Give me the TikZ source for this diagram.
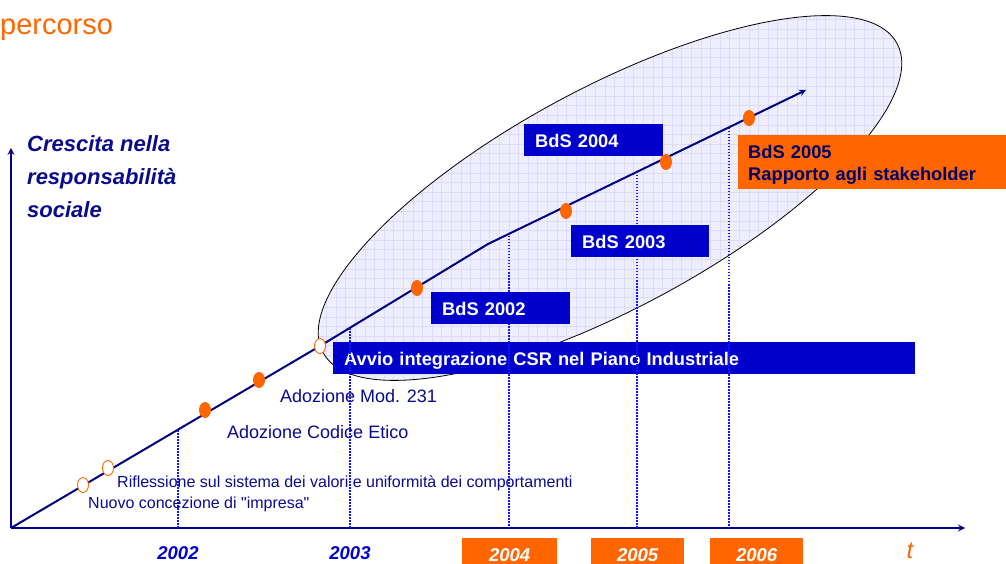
\documentclass[tikz,border=0pt]{standalone}
\usepackage{fontspec}
\setmainfont{Liberation Sans}[Ligatures=TeXOff]
\usetikzlibrary{shapes.geometric}

\definecolor{navy}{RGB}{0,0,128}
\definecolor{navytext}{RGB}{10,10,140}
\definecolor{boxblue}{RGB}{0,0,204}
\definecolor{dropblue}{RGB}{20,20,255}
\definecolor{mileorange}{RGB}{255,102,0}
\definecolor{darktext}{RGB}{0,0,102}
\definecolor{lavender}{RGB}{238,238,255}
\definecolor{gridlav}{RGB}{220,220,250}

\tikzset{
  axis/.style={draw=navy, line width=2bp},
  full dot/.style={ellipse, fill=mileorange, inner sep=0pt, minimum width=12bp, minimum height=16bp},
  open dot/.style={ellipse, draw=mileorange, fill=white, line width=0.9bp, inner sep=0pt, minimum width=11bp, minimum height=15bp},
  drop line/.style={draw=dropblue, line width=1.5bp, dash pattern=on 1.5bp off 1.5bp},
  bds box/.style={fill=boxblue, text=white, anchor=north west, align=left, inner xsep=11bp, inner ysep=0pt,
    minimum height=32bp, text height=14bp, text depth=0bp, font=\fontsize{18.3bp}{22bp}\selectfont\bfseries},
  year box/.style={fill=mileorange, text=white, anchor=north west, inner sep=0pt, minimum height=32bp,
    text height=14bp, text depth=0bp, font=\fontsize{18.5bp}{22bp}\selectfont\bfseries\itshape},
  year label/.style={text=boxblue, anchor=base, inner sep=0pt, font=\fontsize{18.5bp}{22bp}\selectfont\bfseries\itshape},
  event/.style={text=navytext, anchor=base west, inner sep=0pt},
  axis title/.style={text=navytext, anchor=base west, inner sep=0pt, font=\fontsize{22bp}{33bp}\selectfont\bfseries\itshape}
}

\begin{document}
\begin{tikzpicture}[x=1bp, y=-1bp, >=stealth]
\useasboundingbox (0,0) rectangle (1006,564);

% area of the balance reports
\begin{scope}
\clip[rotate around={28.3:(610,198)}] (610,198) ellipse [x radius=326bp, y radius=110bp];
\fill[lavender] (280,0) rectangle (940,400);
\draw[gridlav, line width=0.4bp, step=9.6bp] (280,400) grid (940,0);
\end{scope}
\draw[line width=0.8bp, rotate around={28.3:(610,198)}] (610,198) ellipse [x radius=326bp, y radius=110bp];

% axes
\coordinate (o) at (11,528);
\coordinate (ytip) at (11,148);
\coordinate (xtip) at (965,528);
\coordinate (k1) at (320,346);
\coordinate (k2) at (488,244);
\coordinate (ltip) at (806,90);
\draw [axis, ->] (o) -- (ytip);
\draw [axis, ->] (o) -- (xtip);
\draw [axis, ->] (o) -- (k1) -- (k2) -- (ltip);

\node [bds box, text width=560bp] (avvio) at (333,342) {Avvio integrazione CSR nel Piano Industriale};

% years
\foreach \x/\y [count=\i] in {178/430, 350/328, 509/236, 637/172, 729/128}
\coordinate (drop-\i) at (\x,\y);
\foreach \i in {1,...,5}
\draw [drop line] (drop-\i) -- (drop-\i |- o);

\foreach \x/\l in {178/2002, 350/2003}
\node [year label] (year-\l) at (\x,559) {\l};
\foreach \x/\w/\l in {462/95/2004, 591/93/2005, 710/93/2006}
\node [year box, minimum width=\w bp] (year-\l) at (\x,538) {\l};

% reports
\node [bds box, text width=117bp] (bds-2002) at (431,292) {BdS 2002};
\node [bds box, text width=116bp] (bds-2003) at (571,225) {BdS 2003};
\node [bds box, text width=117bp] (bds-2004) at (524,124) {BdS 2004};
\node [bds box, fill=mileorange, text=darktext, inner xsep=10bp, minimum height=54bp, text width=250bp, text depth=22bp]
  (bds-2005) at (738,135) {BdS 2005\\Rapporto agli stakeholder};

% milestones
\foreach \x/\y [count=\i] in {83/485, 108/468, 320/346}
\node [open dot] (open-\i) at (\x,\y) {};
\foreach \x/\y [count=\i] in {205/410, 259/380, 417/288, 566/211, 666/162, 749/118}
\node [full dot] (dot-\i) at (\x,\y) {};

\node [event, font=\fontsize{16bp}{19bp}\selectfont] (riflessione) at (117,487)
  {Riflessione sul sistema dei valori e uniformità dei comportamenti};
\node [event, font=\fontsize{16bp}{19bp}\selectfont] (impresa) at (88,508) {Nuovo concezione di "impresa"};
\node [event, font=\fontsize{18bp}{21bp}\selectfont] (codice) at (227,438) {Adozione Codice Etico};
\node [event, font=\fontsize{18bp}{21bp}\selectfont] (mod231) at (280,402) {Adozione Mod. 231};

%   labels
\foreach \l [count=\i from 0] in {Crescita nella, responsabilità, sociale}
\node [axis title] (ytitle-\i) at (27,152+33*\i) {\l};
\node [text=mileorange, anchor=base, inner sep=0pt, font=\fontsize{24bp}{28bp}\selectfont\itshape] (t) at (910,558) {t};
\node [text=mileorange, anchor=base west, inner sep=0pt, font=\fontsize{29bp}{34bp}\selectfont] (title) at (0,35) {percorso};
\end{tikzpicture}
\end{document}
